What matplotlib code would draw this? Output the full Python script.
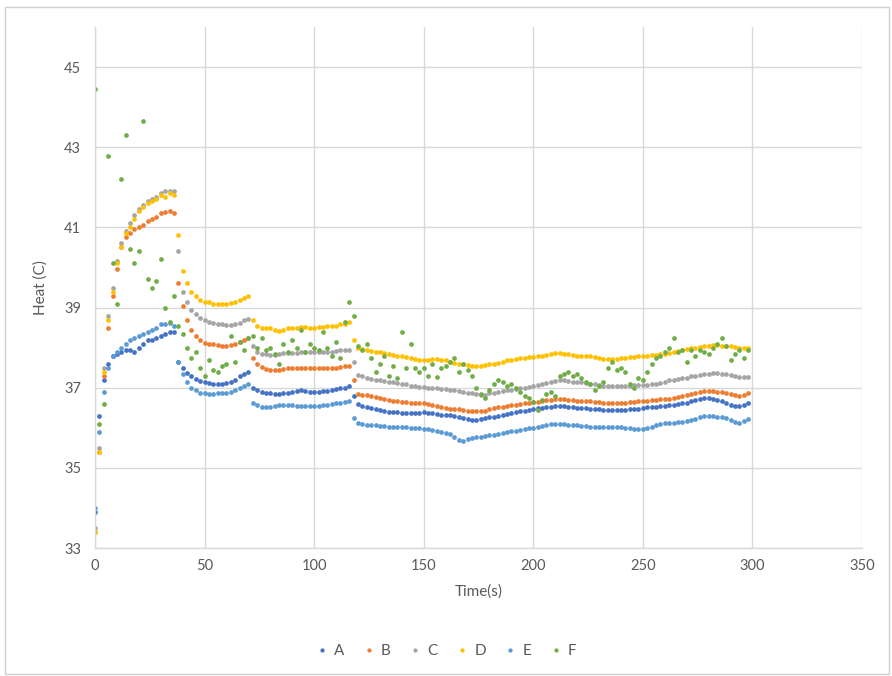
import numpy as np
import matplotlib

matplotlib.use("Agg")
import matplotlib.pyplot as plt
from matplotlib.patches import Rectangle

plt.rcParams["font.family"] = ["Lato", "DejaVu Sans"]

# sample times, one reading every 2 s
time_s = np.arange(0, 300, 2)

heat_a = [
    33.9, 36.3, 37.2, 37.6, 37.8, 37.85, 37.9, 37.95, 37.95, 37.9,
    38.0, 38.1, 38.2, 38.2, 38.25, 38.3, 38.35, 38.4, 38.4, 37.65,
    37.5, 37.37, 37.28, 37.22, 37.17, 37.13, 37.12, 37.1, 37.1, 37.1,
    37.12, 37.15, 37.2, 37.28, 37.35, 37.4, 37.0, 36.95, 36.9, 36.87,
    36.86, 36.85, 36.85, 36.86, 36.88, 36.9, 36.92, 36.93, 36.92, 36.9,
    36.9, 36.9, 36.91, 36.92, 36.94, 36.96, 36.98, 37.0, 37.03, 36.8,
    36.6, 36.55, 36.52, 36.49, 36.46, 36.44, 36.42, 36.4, 36.39, 36.39,
    36.38, 36.38, 36.37, 36.37, 36.38, 36.39, 36.38, 36.36, 36.34, 36.33,
    36.32, 36.31, 36.29, 36.27, 36.25, 36.22, 36.19, 36.19, 36.21, 36.24,
    36.26, 36.28, 36.3, 36.32, 36.35, 36.37, 36.39, 36.41, 36.43, 36.45,
    36.47, 36.49, 36.5, 36.52, 36.53, 36.54, 36.55, 36.54, 36.53, 36.52,
    36.5, 36.49, 36.49, 36.48, 36.47, 36.46, 36.45, 36.45, 36.44, 36.44,
    36.44, 36.45, 36.46, 36.47, 36.48, 36.49, 36.51, 36.52, 36.53, 36.54,
    36.55, 36.57, 36.58, 36.6, 36.61, 36.63, 36.66, 36.69, 36.72, 36.74,
    36.74, 36.72, 36.7, 36.66, 36.62, 36.58, 36.55, 36.55, 36.58, 36.62,
]

heat_b = [
    33.4, 35.4, 37.3, 38.5, 39.3, 39.95, 40.5, 40.75, 40.85, 40.95,
    41.0, 41.05, 41.15, 41.2, 41.25, 41.35, 41.38, 41.4, 41.35, 39.6,
    39.05, 38.7, 38.45, 38.3, 38.2, 38.12, 38.1, 38.08, 38.06, 38.05,
    38.05, 38.06, 38.1, 38.15, 38.2, 38.25, 37.75, 37.6, 37.52, 37.47,
    37.45, 37.44, 37.44, 37.46, 37.48, 37.49, 37.5, 37.5, 37.5, 37.49,
    37.49, 37.5, 37.5, 37.5, 37.5, 37.5, 37.52, 37.53, 37.55, 37.2,
    36.85, 36.83, 36.82, 36.8, 36.77, 36.74, 36.72, 36.7, 36.68, 36.66,
    36.65, 36.64, 36.63, 36.62, 36.62, 36.61, 36.6, 36.57, 36.54, 36.51,
    36.49, 36.48, 36.47, 36.46, 36.44, 36.43, 36.42, 36.41, 36.41, 36.43,
    36.46, 36.49, 36.51, 36.53, 36.55, 36.56, 36.57, 36.6, 36.62, 36.63,
    36.64, 36.65, 36.67, 36.69, 36.7, 36.72, 36.72, 36.71, 36.7, 36.69,
    36.68, 36.67, 36.67, 36.66, 36.65, 36.64, 36.63, 36.62, 36.62, 36.62,
    36.62, 36.63, 36.64, 36.65, 36.66, 36.67, 36.68, 36.69, 36.7, 36.71,
    36.72, 36.73, 36.75, 36.77, 36.79, 36.81, 36.84, 36.87, 36.9, 36.92,
    36.92, 36.91, 36.9, 36.9, 36.88, 36.85, 36.81, 36.8, 36.83, 36.86,
]

heat_c = [
    33.5, 35.5, 37.5, 38.8, 39.5, 40.15, 40.6, 40.9, 41.1, 41.3,
    41.45, 41.55, 41.65, 41.7, 41.75, 41.85, 41.9, 41.9, 41.9, 40.4,
    39.4, 39.15, 38.95, 38.85, 38.75, 38.7, 38.65, 38.62, 38.6, 38.58,
    38.56, 38.56, 38.58, 38.62, 38.68, 38.72, 38.05, 37.9, 37.85, 37.83,
    37.82, 37.82, 37.84, 37.86, 37.86, 37.87, 37.87, 37.88, 37.88, 37.88,
    37.89, 37.89, 37.9, 37.9, 37.9, 37.92, 37.93, 37.94, 37.95, 37.65,
    37.32, 37.28, 37.25, 37.22, 37.2, 37.18, 37.16, 37.15, 37.14, 37.12,
    37.1, 37.08, 37.05, 37.03, 37.02, 37.01, 37.0, 36.99, 36.98, 36.97,
    36.96, 36.95, 36.93, 36.92, 36.9, 36.88, 36.86, 36.84, 36.82, 36.83,
    36.86, 36.88, 36.9, 36.92, 36.94, 36.95, 36.97, 36.98, 37.0, 37.02,
    37.04, 37.06, 37.09, 37.12, 37.15, 37.17, 37.18, 37.18, 37.17, 37.15,
    37.14, 37.13, 37.12, 37.1, 37.08, 37.06, 37.05, 37.04, 37.04, 37.04,
    37.04, 37.05, 37.05, 37.06, 37.06, 37.07, 37.07, 37.08, 37.1, 37.12,
    37.15, 37.18, 37.2, 37.22, 37.23, 37.25, 37.28, 37.3, 37.32, 37.34,
    37.35, 37.36, 37.36, 37.35, 37.34, 37.32, 37.3, 37.27, 37.26, 37.27,
]

heat_d = [
    33.4, 35.4, 37.4, 38.7, 39.4, 40.1, 40.5, 40.85, 41.0, 41.2,
    41.4, 41.5, 41.6, 41.65, 41.7, 41.8, 41.75, 41.85, 41.8, 40.8,
    39.9, 39.6, 39.4, 39.3, 39.2, 39.15, 39.15, 39.1, 39.1, 39.1,
    39.1, 39.12, 39.15, 39.2, 39.25, 39.3, 38.7, 38.55, 38.5, 38.5,
    38.48, 38.45, 38.42, 38.45, 38.5, 38.5, 38.5, 38.52, 38.52, 38.5,
    38.5, 38.52, 38.52, 38.53, 38.55, 38.55, 38.58, 38.6, 38.65, 38.2,
    38.0, 37.97, 37.94, 37.92, 37.9, 37.88, 37.86, 37.84, 37.82, 37.8,
    37.79, 37.76, 37.74, 37.72, 37.7, 37.68, 37.7, 37.72, 37.72, 37.7,
    37.68, 37.65, 37.62, 37.6, 37.58, 37.56, 37.55, 37.54, 37.54, 37.56,
    37.58, 37.6, 37.62, 37.65, 37.68, 37.7, 37.72, 37.74, 37.75, 37.76,
    37.76, 37.78, 37.8, 37.82, 37.84, 37.86, 37.86, 37.85, 37.84, 37.82,
    37.8, 37.8, 37.78, 37.78, 37.76, 37.74, 37.72, 37.72, 37.72, 37.72,
    37.74, 37.75, 37.76, 37.77, 37.78, 37.8, 37.8, 37.82, 37.82, 37.84,
    37.85, 37.87, 37.9, 37.92, 37.95, 37.97, 37.99, 38.0, 38.02, 38.03,
    38.05, 38.06, 38.06, 38.05, 38.05, 38.04, 38.02, 38.0, 38.0, 38.0,
]

heat_e = [
    34.0, 35.9, 36.9, 37.5, 37.8, 37.9, 38.0, 38.1, 38.2, 38.25,
    38.3, 38.35, 38.4, 38.45, 38.5, 38.6, 38.6, 38.62, 38.55, 37.65,
    37.35, 37.15, 37.0, 36.93, 36.88, 36.86, 36.85, 36.85, 36.86, 36.86,
    36.88, 36.9, 36.94, 37.0, 37.05, 37.1, 36.62, 36.57, 36.53, 36.52,
    36.52, 36.54, 36.56, 36.57, 36.57, 36.56, 36.55, 36.55, 36.55, 36.54,
    36.54, 36.55, 36.56, 36.58, 36.6, 36.61, 36.63, 36.65, 36.67, 36.25,
    36.13, 36.1, 36.08, 36.07, 36.06, 36.05, 36.04, 36.03, 36.03, 36.02,
    36.02, 36.01, 36.0, 35.99, 35.99, 35.98, 35.96, 35.94, 35.92, 35.89,
    35.87, 35.84, 35.78, 35.7, 35.68, 35.72, 35.74, 35.76, 35.77, 35.79,
    35.81, 35.83, 35.85, 35.87, 35.89, 35.91, 35.93, 35.95, 35.97, 35.99,
    36.0, 36.02, 36.04, 36.07, 36.09, 36.1, 36.1, 36.09, 36.08, 36.07,
    36.06, 36.04, 36.04, 36.03, 36.03, 36.02, 36.02, 36.02, 36.02, 36.02,
    36.01, 36.0, 35.99, 35.98, 35.97, 35.97, 36.0, 36.03, 36.06, 36.09,
    36.12, 36.13, 36.13, 36.14, 36.14, 36.16, 36.19, 36.22, 36.26, 36.29,
    36.3, 36.3, 36.28, 36.27, 36.24, 36.19, 36.15, 36.13, 36.17, 36.22,
]

heat_f = [
    44.45, 36.1, 36.6, 42.78, 40.1, 39.1, 42.2, 43.3, 40.45, 40.1,
    40.4, 43.65, 39.7, 39.5, 39.65, 40.2, 39.0, 38.65, 39.3, 38.55,
    38.35, 38.0, 37.75, 37.9, 37.5, 37.3, 37.7, 37.45, 37.4, 37.55,
    37.6, 38.3, 37.65, 38.15, 37.95, 38.25, 38.3, 38.0, 38.25, 37.95,
    38.0, 37.85, 37.6, 38.1, 37.9, 38.2, 38.0, 38.45, 37.9, 38.1,
    38.0, 37.95, 38.4, 38.0, 37.8, 38.15, 37.75, 38.65, 39.15, 38.8,
    38.05, 37.95, 38.1, 37.75, 37.4, 37.6, 37.8, 37.3, 37.55, 37.25,
    38.4, 37.5, 38.1, 37.5, 37.4, 37.5, 37.3, 37.6, 37.27, 37.5,
    37.55, 37.65, 37.75, 37.4, 37.6, 37.45, 37.3, 37.0, 36.85, 36.75,
    36.95, 37.1, 37.2, 37.15, 37.05, 37.1, 37.0, 36.9, 36.8, 36.75,
    36.65, 36.45, 36.7, 36.85, 36.9, 36.8, 37.3, 37.35, 37.4, 37.3,
    37.35, 37.25, 37.15, 37.1, 36.95, 37.05, 37.15, 37.5, 37.65, 37.45,
    37.5, 37.4, 37.1, 37.0, 37.25, 37.2, 37.4, 37.6, 37.75, 37.8,
    37.9, 38.0, 38.25, 37.9, 37.95, 37.65, 37.95, 37.8, 37.95, 37.9,
    37.85, 38.0, 38.1, 38.25, 38.05, 37.7, 37.85, 37.95, 37.75, 37.95,
]

series = [
    ("A", heat_a, "#4472C4"),
    ("B", heat_b, "#ED7D31"),
    ("C", heat_c, "#A5A5A5"),
    ("D", heat_d, "#FFC000"),
    ("E", heat_e, "#5B9BD5"),
    ("F", heat_f, "#70AD47"),
]

text_grey = "#595959"
grid_grey = "#D9D9D9"

fig = plt.figure(figsize=(8.92, 6.76), dpi=100)
# outer chart frame
fig.patches.append(Rectangle((5 / 892, 2 / 676), 884 / 892, 667 / 676,
                             transform=fig.transFigure, fill=False,
                             edgecolor="#D0D0D0", linewidth=1))

ax = fig.add_axes([95 / 892, 1 - 548 / 676, 767 / 892, 521 / 676])
for name, values, colour in series:
    ax.plot(time_s, values, linestyle="none", marker="o", markersize=3.4,
            markeredgewidth=0, color=colour, label=name)

ax.set_xlim(0, 350)
ax.set_ylim(33, 46)
ax.set_xticks(np.arange(0, 351, 50))
ax.set_yticks(np.arange(33, 46, 2))
ax.grid(True, color=grid_grey, linewidth=1)
ax.set_axisbelow(True)
for side in ("top", "right"):
    ax.spines[side].set_visible(False)
for side in ("left", "bottom"):
    ax.spines[side].set_color(grid_grey)
    ax.spines[side].set_linewidth(1)
ax.tick_params(length=0, labelsize=10.5, labelcolor=text_grey)
ax.tick_params(axis="y", pad=10)
ax.tick_params(axis="x", pad=8)

ax.set_xlabel("Time(s)", fontsize=11, color=text_grey, labelpad=8)
ax.set_ylabel("Heat (C)", fontsize=11, color=text_grey, labelpad=12)

fig.legend(loc="center", bbox_to_anchor=(0.5, 1 - 651 / 676), ncol=6,
           frameon=False, fontsize=11, labelcolor=text_grey,
           handlelength=0.8, handletextpad=0.4, columnspacing=1.2,
           markerscale=0.9)

fig.savefig("out.png", dpi=100)
